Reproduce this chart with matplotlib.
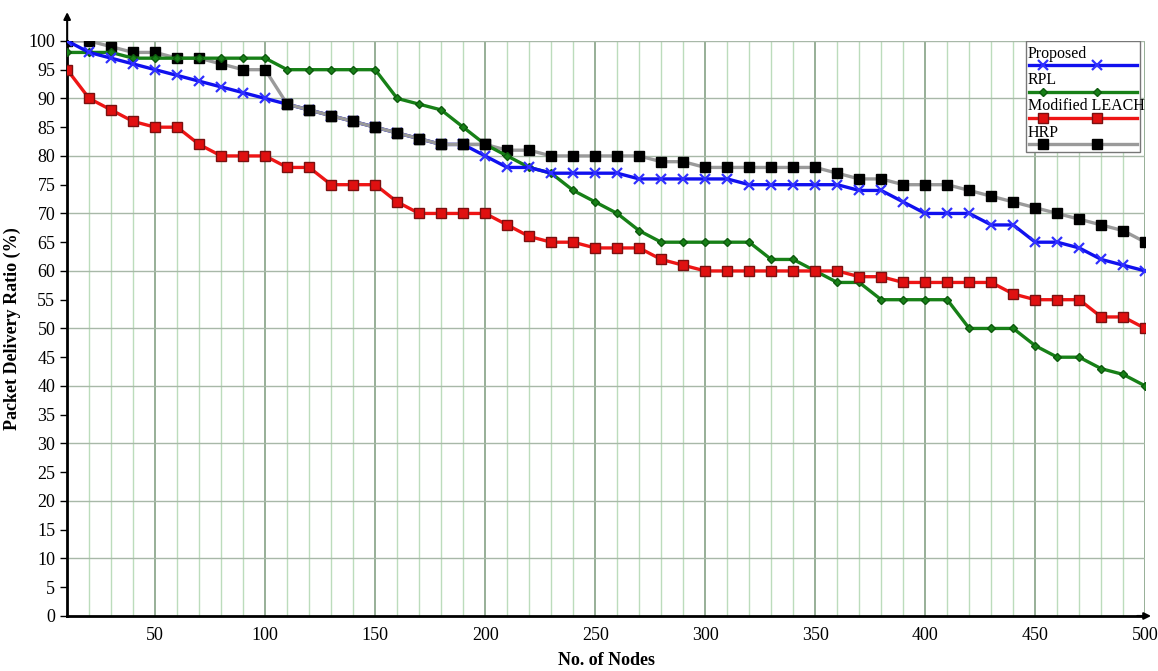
import numpy as np
import matplotlib.pyplot as plt
from matplotlib.patches import Rectangle
from matplotlib.lines import Line2D

nodes = list(range(10, 501, 10))

proposed = [100, 98, 97, 96, 95, 94, 93, 92, 91, 90,
            89, 88, 87, 86, 85, 84, 83, 82, 82, 80,
            78, 78, 77, 77, 77, 77, 76, 76, 76, 76,
            76, 75, 75, 75, 75, 75, 74, 74, 72, 70,
            70, 70, 68, 68, 65, 65, 64, 62, 61, 60]

rpl = [98, 98, 98, 97, 97, 97, 97, 97, 97, 97,
       95, 95, 95, 95, 95, 90, 89, 88, 85, 82,
       80, 78, 77, 74, 72, 70, 67, 65, 65, 65,
       65, 65, 62, 62, 60, 58, 58, 55, 55, 55,
       55, 50, 50, 50, 47, 45, 45, 43, 42, 40]

leach = [95, 90, 88, 86, 85, 85, 82, 80, 80, 80,
         78, 78, 75, 75, 75, 72, 70, 70, 70, 70,
         68, 66, 65, 65, 64, 64, 64, 62, 61, 60,
         60, 60, 60, 60, 60, 60, 59, 59, 58, 58,
         58, 58, 58, 56, 55, 55, 55, 52, 52, 50]

hrp = [100, 100, 99, 98, 98, 97, 97, 96, 95, 95,
       89, 88, 87, 86, 85, 84, 83, 82, 82, 82,
       81, 81, 80, 80, 80, 80, 80, 79, 79, 78,
       78, 78, 78, 78, 78, 77, 76, 76, 75, 75,
       75, 74, 73, 72, 71, 70, 69, 68, 67, 65]

labels = ['Proposed', 'RPL', 'Modified LEACH', 'HRP']
x_ticks = [50, 100, 150, 200, 250, 300, 350, 400, 450, 500]
y_ticks = list(range(0, 101, 5))

plt.rcParams['font.family'] = ['Liberation Serif', 'DejaVu Serif']

fig = plt.figure(figsize=(11.58, 6.71), dpi=100)
ax = fig.add_axes([0.058, 0.082, 0.931, 0.857])

# grid: minor every 10 nodes, major every 50
for xv in range(20, 501, 10):
    if xv % 50 == 0:
        ax.axvline(xv, color='#7a9a7a', lw=1.1, zorder=0)
    else:
        ax.axvline(xv, color='#bcdcbc', lw=1.0, zorder=0)
for yv in range(10, 101, 10):
    ax.axhline(yv, color='#a8b8a8', lw=1.0, zorder=0)

green = '#178017'

ax.plot(nodes, hrp, color='#9a9a9a', lw=2.4, marker='s', ms=7,
        mfc='black', mec='black', zorder=3)
ax.plot(nodes, rpl, color=green, lw=2.4, marker='D', ms=4,
        mfc=green, mec='#0d5a0d', zorder=3)
ax.plot(nodes, leach, color='#ee1515', lw=2.4, marker='s', ms=7,
        mfc='#e01010', mec='#7a1010', zorder=3)
ax.plot(nodes, proposed, color='#1010ee', lw=2.4, marker='x', ms=7,
        mew=1.6, mec='#3030ff', zorder=4)
# HRP drawn over blue between 110 and 190 like the reference
ax.plot(nodes[10:20], hrp[10:20], color='#9a9a9a', lw=2.4, marker='s', ms=7,
        mfc='black', mec='black', zorder=5)

ax.set_xlim(10, 500)
ax.set_ylim(0, 100)
ax.set_xticks(x_ticks)
ax.set_yticks(y_ticks)
ax.tick_params(axis='both', labelsize=13, length=5, width=1, direction='out')
ax.tick_params(axis='x', length=0, pad=8)

for s in ['top', 'right']:
    ax.spines[s].set_visible(False)
ax.spines['left'].set_linewidth(2)
ax.spines['bottom'].set_linewidth(2)

ax.annotate('', xy=(0, 1.055), xycoords='axes fraction', xytext=(0, 0.99),
            arrowprops=dict(arrowstyle='-|>', color='black', lw=1.5,
                            mutation_scale=10), annotation_clip=False)
ax.annotate('', xy=(1.008, 0), xycoords='axes fraction', xytext=(0.99, 0),
            arrowprops=dict(arrowstyle='-|>', color='black', lw=1.5,
                            mutation_scale=10), annotation_clip=False)

ax.set_ylabel('Packet Delivery Ratio (%)', fontsize=13, fontweight='bold')
ax.yaxis.set_label_coords(-0.043, 0.5)
ax.set_xlabel('No. of Nodes', fontsize=13, fontweight='bold', labelpad=6)

# legend: label above a long sample line, as in the original
box = Rectangle((0.889, 0.807), 0.106, 0.193, transform=ax.transAxes,
                facecolor='white', edgecolor='#777777', lw=1.0, zorder=6)
ax.add_patch(box)
styles = [
    dict(color='#1010ee', marker='x', ms=7, mew=1.6, mec='#3030ff'),
    dict(color=green, marker='D', ms=4, mfc=green, mec='#0d5a0d'),
    dict(color='#ee1515', marker='s', ms=7, mfc='#e01010', mec='#7a1010'),
    dict(color='#9a9a9a', marker='s', ms=7, mfc='black', mec='black'),
]
for i, (lab, st) in enumerate(zip(labels, styles)):
    ty = 0.978 - i * 0.046
    ax.text(0.891, ty, lab, transform=ax.transAxes, fontsize=11.5,
            va='center', ha='left', zorder=7)
    ly = ty - 0.02
    ax.add_line(Line2D([0.892, 0.992], [ly, ly], transform=ax.transAxes,
                       lw=2.4, zorder=7, color=st['color']))
    ax.add_line(Line2D([0.905, 0.955], [ly, ly], transform=ax.transAxes,
                       lw=0, zorder=8, **{k: v for k, v in st.items() if k != 'color'}))

fig.savefig('out.png', dpi=100)
